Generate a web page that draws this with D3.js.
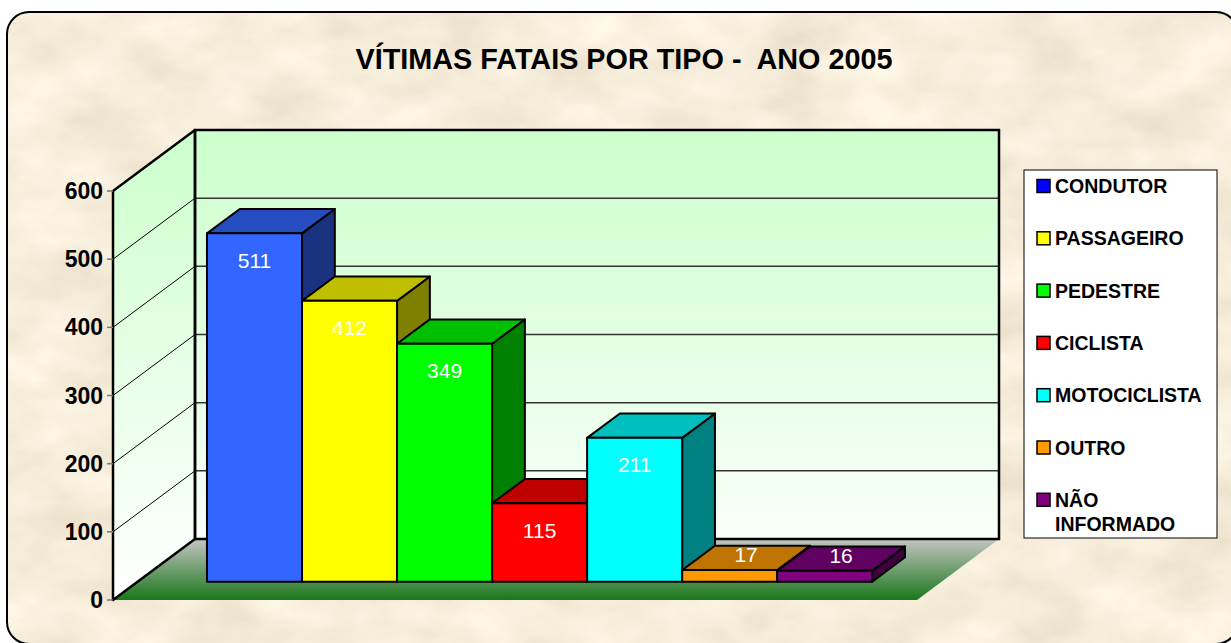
<!DOCTYPE html>
<html>
<head>
<meta charset="utf-8">
<script src="https://cdn.jsdelivr.net/npm/d3@7"></script>
<style>
  html, body { margin: 0; padding: 0; background: #fff; }
  svg { display: block; }
  text { font-family: Arial, "Liberation Sans", sans-serif; }
</style>
</head>
<body>
<svg id="chart"></svg>
<script>
const categories = ["CONDUTOR", "PASSAGEIRO", "PEDESTRE", "CICLISTA", "MOTOCICLISTA", "OUTRO", "NÃO INFORMADO"];
const values = [511, 412, 349, 115, 211, 17, 16];
const barColors = ["#3366ff", "#ffff00", "#00ff00", "#ff0000", "#00ffff", "#ff9900", "#800080"];
const legendColors = ["#0000ff", "#ffff00", "#00ff00", "#ff0000", "#00ffff", "#ff9900", "#800080"];
const yTicks = [0, 100, 200, 300, 400, 500, 600];
const title = "VÍTIMAS FATAIS POR TIPO -  ANO 2005";

function main() {
  const width = 1231, height = 643;
  const DX = 82, DY = 61;          // depth offset of the floor
  const front = 0.3, back = 0.7;   // bar depth range

  const svg = d3.select("#chart").attr("width", width).attr("height", height);
  const defs = svg.append("defs");

  // parchment texture
  const f = defs.append("filter").attr("id", "paper")
    .attr("x", 0).attr("y", 0).attr("width", "100%").attr("height", "100%");
  f.append("feTurbulence").attr("type", "fractalNoise")
    .attr("baseFrequency", "0.012 0.02").attr("numOctaves", 5).attr("seed", 7);
  f.append("feColorMatrix").attr("type", "matrix")
    .attr("values", "0.26 0 0 0 0.79  0.3 0 0 0 0.695  0.34 0 0 0 0.535  0 0 0 0 1");

  const wallGrad = defs.append("linearGradient").attr("id", "wall")
    .attr("gradientUnits", "userSpaceOnUse").attr("x1", 0).attr("x2", 0).attr("y1", 130).attr("y2", 590);
  wallGrad.append("stop").attr("offset", 0).attr("stop-color", "#ccffcc");
  wallGrad.append("stop").attr("offset", 1).attr("stop-color", "#ffffff");

  const floorGrad = defs.append("linearGradient").attr("id", "floor")
    .attr("x1", 0).attr("x2", 0).attr("y1", 0).attr("y2", 1);
  floorGrad.append("stop").attr("offset", 0).attr("stop-color", "#c4c4c4");
  floorGrad.append("stop").attr("offset", 1).attr("stop-color", "#1a781a");

  defs.append("clipPath").attr("id", "frameClip")
    .append("rect").attr("x", 7).attr("y", 12).attr("width", 1231).attr("height", 632).attr("rx", 22);

  svg.append("rect").attr("x", 7).attr("y", 12).attr("width", 1231).attr("height", 632)
    .attr("clip-path", "url(#frameClip)").attr("filter", "url(#paper)").attr("fill", "#ead8b4");
  svg.append("rect").attr("x", 7).attr("y", 12).attr("width", 1231).attr("height", 632).attr("rx", 22)
    .attr("fill", "none").attr("stroke", "#000").attr("stroke-width", 2);

  svg.append("text")
    .attr("x", 624).attr("y", 69)
    .attr("text-anchor", "middle")
    .attr("font-size", 28.8).attr("font-weight", "bold")
    .style("white-space", "pre")
    .text(title);

  // scales on the front plane of the floor
  const y = d3.scaleLinear().domain([0, 600]).range([600, 191]);
  const x = d3.scaleBand().domain(categories).range([113, 917]).paddingInner(0).paddingOuter(0.73);
  const P = (xx, v, t) => [xx + t * DX, y(v) - t * DY];
  const line = pts => "M" + pts.map(p => p.join(",")).join("L") + "Z";

  const x0 = x.range()[0], x1 = x.range()[1];
  const [ymin, ymax] = y.domain();

  // back wall
  svg.append("path")
    .attr("d", line([P(x0, ymin, 1), P(x1, ymin, 1), P(x1, ymax, 1), P(x0, ymax, 1)]))
    .attr("fill", "url(#wall)");
  // side wall
  svg.append("path")
    .attr("d", line([P(x0, ymin, 0), P(x0, ymax, 0), P(x0, ymax, 1), P(x0, ymin, 1)]))
    .attr("fill", "url(#wall)");
  // floor
  svg.append("path")
    .attr("d", line([P(x0, ymin, 0), P(x1, ymin, 0), P(x1, ymin, 1), P(x0, ymin, 1)]))
    .attr("fill", "url(#floor)");

  const grid = yTicks.filter(v => v > ymin && v < ymax);
  svg.append("g").selectAll("line").data(grid).join("line")
    .attr("x1", P(x0, 0, 1)[0]).attr("x2", P(x1, 0, 1)[0])
    .attr("y1", d => P(x0, d, 1)[1]).attr("y2", d => P(x0, d, 1)[1])
    .attr("stroke", "#333").attr("stroke-width", 1.5);
  svg.append("g").selectAll("line").data(grid).join("line")
    .attr("x1", d => P(x0, d, 0)[0]).attr("y1", d => P(x0, d, 0)[1])
    .attr("x2", d => P(x0, d, 1)[0]).attr("y2", d => P(x0, d, 1)[1])
    .attr("stroke", "#000").attr("stroke-width", 1);

  // wall outlines
  svg.append("path")
    .attr("d", line([P(x0, ymin, 1), P(x1, ymin, 1), P(x1, ymax, 1), P(x0, ymax, 1)]))
    .attr("fill", "none").attr("stroke", "#000").attr("stroke-width", 2.5);
  svg.append("path")
    .attr("d", line([P(x0, ymin, 0), P(x0, ymax, 0), P(x0, ymax, 1), P(x0, ymin, 1)]))
    .attr("fill", "none").attr("stroke", "#000").attr("stroke-width", 2.5)
    .attr("stroke-linejoin", "round");

  // y axis ticks and labels
  const axis = svg.append("g");
  axis.selectAll("line").data(yTicks).join("line")
    .attr("x1", x0 - 6).attr("x2", x0)
    .attr("y1", d => y(d)).attr("y2", d => y(d))
    .attr("stroke", "#777").attr("stroke-width", 1.5);
  axis.selectAll("text").data(yTicks).join("text")
    .attr("x", x0 - 10).attr("y", d => y(d) + 8)
    .attr("text-anchor", "end")
    .attr("font-size", 23).attr("font-weight", "bold")
    .text(d => d);

  // bars
  const shade = (c, k) => { const r = d3.rgb(c); return d3.rgb(r.r * k, r.g * k, r.b * k).formatHex(); };
  const bars = svg.append("g").selectAll("g")
    .data(categories.map((c, i) => ({ cat: c, v: values[i], col: barColors[i] })))
    .join("g")
    .attr("stroke", "#000").attr("stroke-width", 2).attr("stroke-linejoin", "round");

  bars.append("path")
    .attr("d", d => { const a = x(d.cat), b = a + x.bandwidth();
      return line([P(b, 0, front), P(b, 0, back), P(b, d.v, back), P(b, d.v, front)]); })
    .attr("fill", d => shade(d.col, 0.5));
  bars.append("path")
    .attr("d", d => { const a = x(d.cat), b = a + x.bandwidth();
      return line([P(a, d.v, front), P(b, d.v, front), P(b, d.v, back), P(a, d.v, back)]); })
    .attr("fill", d => shade(d.col, 0.75));
  bars.append("path")
    .attr("d", d => { const a = x(d.cat), b = a + x.bandwidth();
      return line([P(a, 0, front), P(b, 0, front), P(b, d.v, front), P(a, d.v, front)]); })
    .attr("fill", d => d.col);

  // value labels
  svg.append("g").selectAll("text")
    .data(categories.map((c, i) => ({ cat: c, v: values[i] })))
    .join("text")
    .attr("text-anchor", "middle")
    .attr("font-size", 21).attr("fill", "#fff")
    .attr("x", d => {
      const m = x(d.cat) + x.bandwidth() / 2;
      return d.v < 50 ? P(m, d.v, (front + back) / 2)[0] : P(m, d.v, front)[0];
    })
    .attr("y", d => d.v < 50 ? P(0, d.v, (front + back) / 2)[1] - 3 + 7.5 : P(0, d.v, front)[1] + 27 + 7.5)
    .text(d => d.v);

  // legend
  const lg = svg.append("g").attr("transform", "translate(1024,170)");
  lg.append("rect").attr("width", 193).attr("height", 368)
    .attr("fill", "#fff").attr("stroke", "#000").attr("stroke-width", 1);
  const item = lg.selectAll("g.item").data(categories).join("g")
    .attr("class", "item")
    .attr("transform", (d, i) => `translate(0,${16 + i * 52.3})`);
  item.append("rect").attr("x", 13).attr("y", -6.5).attr("width", 13).attr("height", 13)
    .attr("fill", (d, i) => legendColors[i]).attr("stroke", "#000").attr("stroke-width", 1.5);
  item.append("text")
    .attr("x", 31).attr("y", 7)
    .attr("font-size", 19.5).attr("font-weight", "bold")
    .selectAll("tspan").data(d => d.split(" ")).join("tspan")
    .attr("x", 31).attr("dy", (d, i) => i ? 24 : 0)
    .text(d => d);
}

window.addEventListener("load", main);
</script>
</body>
</html>
